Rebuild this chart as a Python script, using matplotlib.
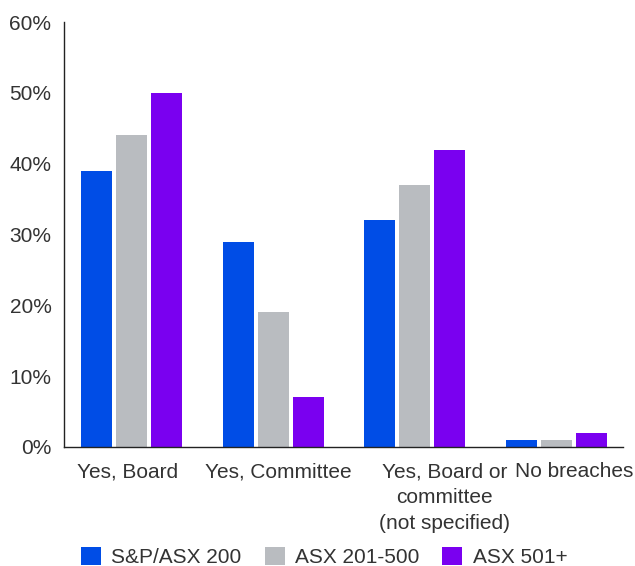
import numpy as np
import matplotlib
matplotlib.use('Agg')
import matplotlib.pyplot as plt
import matplotlib.transforms as mtrans

# Data
categories = ["Yes, Board", "Yes, Committee", "Yes, Board or\ncommittee\n(not specified)", "No breaches"]
series = ["S&P/ASX 200", "ASX 201-500", "ASX 501+"]
asx200 = [39, 29, 32, 1]
asx201_500 = [44, 19, 37, 1]
asx501 = [50, 7, 42, 2]
yticks = [0, 10, 20, 30, 40, 50, 60]

colors = ['#004DE6', '#B9BCC0', '#7A00F0']
txt = '#333333'
fs = 15

plt.rcParams['font.family'] = ['Liberation Sans', 'DejaVu Sans']

fig = plt.figure(figsize=(6.35, 5.66), dpi=100)
ax = fig.add_axes([64/635, 1 - 447/566, (623 - 64)/635, (447 - 22)/566])

x = np.arange(len(categories))
w = 0.219
step = 0.247
for i, (vals, lab) in enumerate(zip([asx200, asx201_500, asx501], series)):
    ax.bar(x + (i - 1) * step, vals, width=w, color=colors[i], label=lab)

ax.set_xlim(-0.476, 3.47)
ax.set_ylim(0, 60)
ax.set_yticks(yticks)
ax.set_yticklabels(['%d%%' % v for v in yticks], fontsize=fs, color=txt)
ax.set_xticks(x)
ax.set_xticklabels(categories, fontsize=fs, color=txt, linespacing=1.45)
ax.tick_params(axis='both', length=0)
ax.tick_params(axis='y', pad=9)
ax.tick_params(axis='x', pad=11)

# nudge the category labels like the original
shifts = [-4, 5, 30, 18]
for lbl, dx in zip(ax.get_xticklabels(), shifts):
    lbl.set_transform(lbl.get_transform() + mtrans.ScaledTranslation(dx / 100., 0, fig.dpi_scale_trans))

for s in ['top', 'right']:
    ax.spines[s].set_visible(False)
for s in ['left', 'bottom']:
    ax.spines[s].set_color('#222222')
    ax.spines[s].set_linewidth(1.0)

fig.legend(loc='center left', bbox_to_anchor=(81/635, 1 - 557/566), ncol=3, frameon=False,
           fontsize=fs, handlelength=0.96, handleheight=0.96, handletextpad=0.5,
           columnspacing=1.1, borderpad=0, borderaxespad=0, labelcolor=txt)

fig.savefig('out.png', dpi=100)
